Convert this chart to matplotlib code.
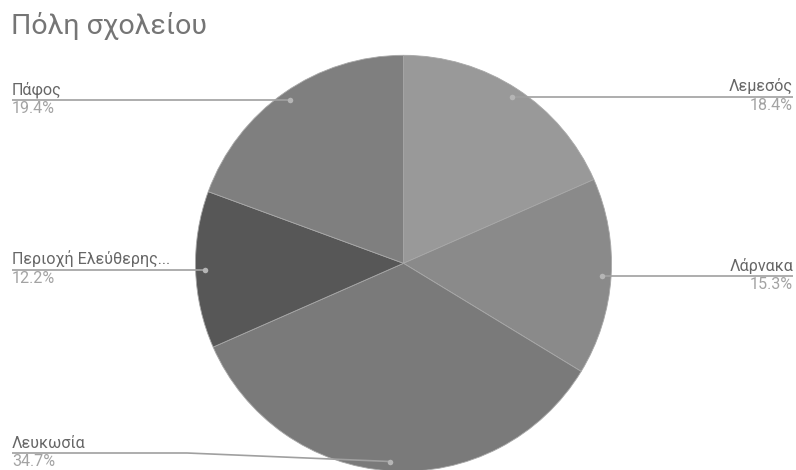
import matplotlib.pyplot as plt
import numpy as np

plt.rcParams['font.family'] = ['Roboto', 'DejaVu Sans']

title = 'Πόλη σχολείου'
cities = ['Λεμεσός', 'Λάρνακα', 'Λευκωσία', 'Περιοχή Ελεύθερης...', 'Πάφος']
shares = [18.4, 15.3, 34.7, 12.2, 19.4]
colors = ['#999999', '#8a8a8a', '#7a7a7a', '#575757', '#7f7f7f']

W, H = 796, 470
fig = plt.figure(figsize=(W / 100, H / 100), dpi=100)
ax = fig.add_axes([0, 0, 1, 1])

cx, cy, R = 403.5, H - 263.3, 208

wedges, _ = ax.pie(shares, colors=colors, startangle=90, counterclock=False,
                   center=(cx, cy), radius=R,
                   wedgeprops=dict(edgecolor='#a8a8a8', linewidth=0.6))

ax.set_xlim(0, W)
ax.set_ylim(0, H)
ax.set_aspect('auto')
ax.axis('off')

line_c = '#a0a0a0'
name_c = '#666666'
pct_c = '#a3a3a3'

for w, name, val in zip(wedges, cities, shares):
    mid = np.deg2rad((w.theta1 + w.theta2) / 2)
    ax_x = cx + 0.955 * R * np.cos(mid)
    ax_y = cy + 0.955 * R * np.sin(mid)
    right = np.cos(mid) > 0
    # leader line from the slice out to the edge of the chart
    if ax_y < 30:
        ly = H - 453
        xs = [12, 187, ax_x]
        ys = [ly, ly, ax_y]
    else:
        ly = ax_y
        xs = [ax_x, 793] if right else [12, ax_x]
        ys = [ly, ly]
    ax.plot(xs, ys, color=line_c, lw=1.2, solid_capstyle='butt', zorder=3)
    ax.plot(ax_x, ax_y, 'o', ms=4, color='#b5b5b5', mec='none', zorder=4)
    tx = 793 if right else 12
    ha = 'right' if right else 'left'
    ax.text(tx, ly + 2.5, name, ha=ha, va='bottom', fontsize=11.6, color=name_c)
    ax.text(tx, ly - 1, f'{val}%', ha=ha, va='top', fontsize=11.6, color=pct_c)

ax.text(11, H - 12, title, ha='left', va='top', fontsize=20.5, color='#757575')

fig.savefig('out.png', dpi=100, facecolor='white')
